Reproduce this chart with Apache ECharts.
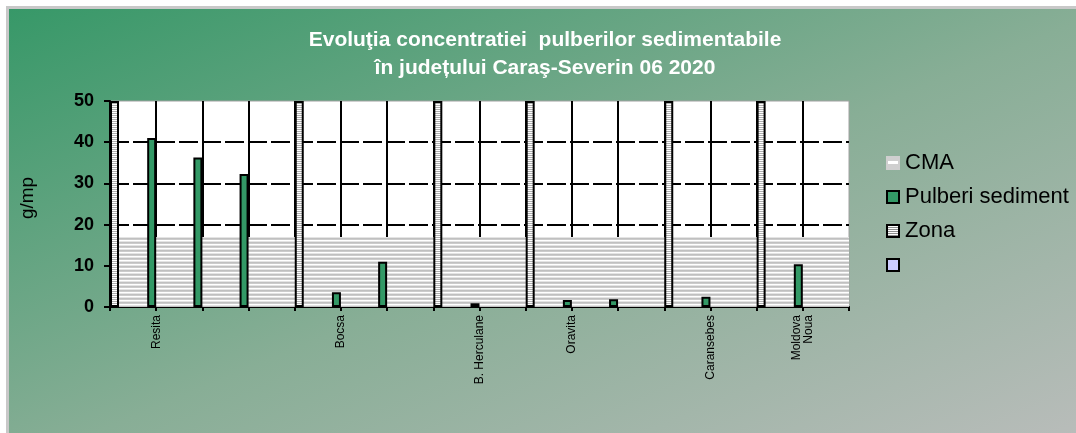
<!DOCTYPE html>
<html>
<head>
<meta charset="utf-8">
<script src="https://cdn.jsdelivr.net/npm/echarts@6/dist/echarts.min.js"></script>
<style>
    html, body { margin: 0; padding: 0; background: #fff; overflow: hidden; }
    #bg {
        position: absolute; left: 6px; top: 6px; width: 1100px; height: 460px;
        border-left: 3px solid #c8c8c8; border-top: 3px solid #c8c8c8;
        background: linear-gradient(to bottom right, #379868 0%, #88ae96 50%, #bebebe 100%);
    }
    #chart { position: absolute; left: 0; top: 0; width: 1076px; height: 433px; }
</style>
</head>
<body>
<div id="bg"></div>
<div id="chart"></div>
<script>
    // categorii (ticks) - doar unele au eticheta
    let categories = ['', 'Resita', '', '', '', 'Bocsa', '', '', 'B. Herculane', '', 'Oravita', '', '', 'Caransebes', '', 'Moldova\nNoua', ''];
    let cmaValues = [17, 17, 17, 17, 17, 17, 17, 17, 17, 17, 17, 17, 17, 17, 17, 17, 17];
    let pulberiValues = ['-', 41, 36.3, 32.3, '-', 3.6, 11, '-', 0.9, '-', 1.7, 1.9, '-', 2.5, '-', 10.4, '-'];
    let zonaValues = [50, '-', '-', '-', 50, '-', '-', 50, '-', 50, '-', '-', 50, '-', 50, '-', '-'];
    let yTicks = [0, 10, 20, 30, 40, 50];

    // hasura (dungi orizontale)
    function stripes(w, rows) {
        let c = document.createElement('canvas');
        c.width = w;
        c.height = rows.length;
        let ctx = c.getContext('2d');
        rows.forEach((col, i) => {
            ctx.fillStyle = col;
            ctx.fillRect(0, i, w, 1);
        });
        return c;
    }

    function icon(draw) {
        let c = document.createElement('canvas');
        c.width = 14;
        c.height = 14;
        draw(c.getContext('2d'));
        return 'image://' + c.toDataURL();
    }

    let cmaPattern = stripes(4, ['#ffffff', '#e4e4e4', '#c0c0c0', '#cccccc']);
    let zonaPattern = stripes(2, ['#ffffff', '#b0b0b0']);

    let cmaIcon = icon(ctx => {
        ctx.fillStyle = '#cfcfcf';
        ctx.fillRect(0, 0, 14, 14);
        ctx.fillStyle = '#ffffff';
        ctx.fillRect(2, 5, 10, 3);
    });
    let pulberiIcon = icon(ctx => {
        ctx.fillStyle = '#339966';
        ctx.fillRect(0, 0, 14, 14);
        ctx.strokeStyle = '#000';
        ctx.lineWidth = 2;
        ctx.strokeRect(1, 1, 12, 12);
    });
    let zonaIcon = icon(ctx => {
        for (let y = 0; y < 14; y++) {
            ctx.fillStyle = y % 2 ? '#909090' : '#ffffff';
            ctx.fillRect(0, y, 14, 1);
        }
        ctx.strokeStyle = '#000';
        ctx.lineWidth = 2;
        ctx.strokeRect(1, 1, 12, 12);
    });
    let blankIcon = icon(ctx => {
        ctx.fillStyle = '#ccccff';
        ctx.fillRect(0, 0, 14, 14);
        ctx.strokeStyle = '#000';
        ctx.lineWidth = 2;
        ctx.strokeRect(1, 1, 12, 12);
    });

    let mChart = echarts.init(document.getElementById('chart'));
    let xSplitColors = categories.map((c, i) => i === categories.length - 1 ? 'rgba(0,0,0,0)' : '#000');
    let ySplitColors = yTicks.map((v, i) => i === yTicks.length - 1 ? 'rgba(0,0,0,0)' : '#000');

    let options = {
        animation: false,
        backgroundColor: 'transparent',
        textStyle: { fontFamily: 'Arial, "Liberation Sans", sans-serif' },
        title: {
            text: 'Evoluţia concentratiei  pulberilor sedimentabile\nîn județului Caraş-Severin 06 2020',
            left: 540,
            top: 21,
            textAlign: 'center',
            textStyle: {
                color: '#fff',
                fontSize: 21,
                fontWeight: 'bold',
                lineHeight: 28,
                fontFamily: 'Arial, "Liberation Sans", sans-serif'
            }
        },
        legend: {
            orient: 'vertical',
            left: 886,
            top: 152,
            itemWidth: 14,
            itemHeight: 14,
            itemGap: 12,
            padding: 0,
            textStyle: { color: '#000', fontSize: 22, lineHeight: 22 },
            data: [
                { name: 'CMA', icon: cmaIcon },
                { name: 'Pulberi sediment', icon: pulberiIcon },
                { name: 'Zona', icon: zonaIcon },
                { name: ' ', icon: blankIcon }
            ]
        },
        grid: {
            left: 110,
            right: 227,
            top: 101,
            bottom: 126,
            show: true,
            backgroundColor: '#fff',
            borderColor: '#a0a0a0',
            borderWidth: 1,
            outerBoundsMode: 'none'
        },
        xAxis: {
            type: 'category',
            boundaryGap: false,
            data: categories,
            axisLine: { show: true, lineStyle: { color: '#000', width: 2 } },
            axisTick: { show: true, interval: 0, length: 4, lineStyle: { color: '#000', width: 2 } },
            axisLabel: {
                interval: 0,
                rotate: 90,
                margin: 8,
                color: '#000',
                fontSize: 12,
                hideOverlap: false
            },
            splitLine: { show: true, interval: 0, lineStyle: { color: xSplitColors, width: 2 } }
        },
        yAxis: {
            type: 'value',
            min: 0,
            max: 50,
            interval: 10,
            name: 'g/mp',
            nameLocation: 'middle',
            nameRotate: 90,
            nameGap: 73,
            nameTextStyle: { color: '#000', fontSize: 19, padding: [0, 0, 0, 12] },
            axisLine: { show: true, lineStyle: { color: '#000', width: 2 } },
            axisTick: { show: true, length: 6, lineStyle: { color: '#000', width: 2 } },
            axisLabel: { color: '#000', fontSize: 18, fontWeight: 'bold', margin: 16 },
            splitLine: { show: true, lineStyle: { color: ySplitColors, width: 2, type: [19, 4] } }
        },
        series: [
            {
                name: 'CMA',
                type: 'line',
                data: cmaValues,
                z: 1,
                showSymbol: false,
                symbol: 'none',
                lineStyle: { width: 0 },
                itemStyle: { color: '#cfcfcf' },
                areaStyle: { color: { image: cmaPattern, repeat: 'repeat' }, opacity: 1 }
            },
            {
                name: 'Pulberi sediment',
                type: 'bar',
                data: pulberiValues,
                z: 3,
                barWidth: 9,
                barGap: '0%',
                itemStyle: { color: '#339966', borderColor: '#000', borderWidth: 2 }
            },
            {
                name: 'Zona',
                type: 'bar',
                data: zonaValues,
                z: 3,
                barWidth: 9,
                barGap: '0%',
                itemStyle: { color: { image: zonaPattern, repeat: 'repeat' }, borderColor: '#000', borderWidth: 2 }
            },
            {
                name: ' ',
                type: 'line',
                data: [],
                itemStyle: { color: '#ccccff' }
            }
        ]
    };
    mChart.setOption(options);
</script>
</body>
</html>
